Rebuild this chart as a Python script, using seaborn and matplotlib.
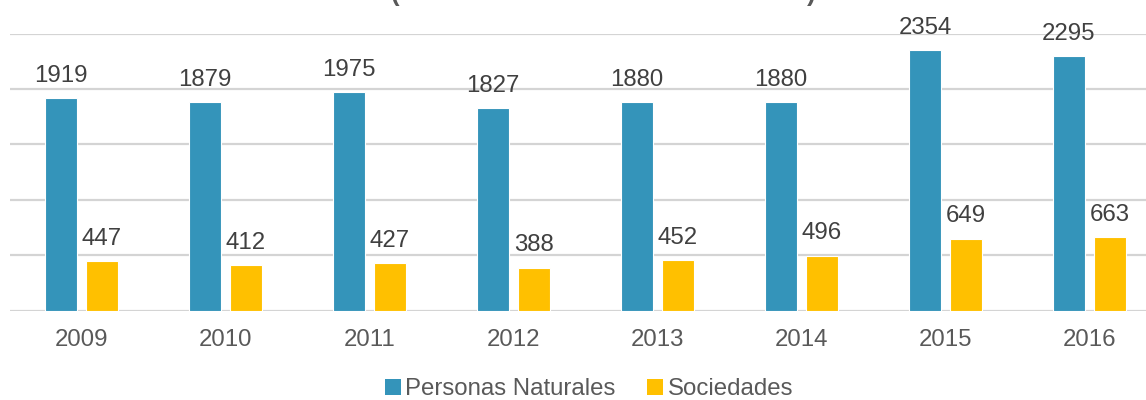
import matplotlib
matplotlib.use("Agg")
import matplotlib.pyplot as plt
import seaborn as sns
import pandas as pd

years = ["2009", "2010", "2011", "2012", "2013", "2014", "2015", "2016"]
personas = [1919, 1879, 1975, 1827, 1880, 1880, 2354, 2295]
sociedades = [447, 412, 427, 388, 452, 496, 649, 663]
series_names = ["Personas Naturales", "Sociedades"]
colors = ["#3494BA", "#FFC000"]

df = pd.DataFrame({
    "year": years * 2,
    "value": personas + sociedades,
    "serie": [series_names[0]] * len(years) + [series_names[1]] * len(years),
})

sns.set_theme(style="white")
plt.rcParams["font.family"] = ["Liberation Sans", "DejaVu Sans"]

W, H = 1146, 400
fig = plt.figure(figsize=(W / 100, H / 100), dpi=100)
# axes extends slightly beyond the right edge (reference is cropped)
left_px, right_px = 9.5, 9.5 + 144 * 8
top_px, bottom_px = 33.5, 310.5
ax = fig.add_axes([left_px / W, 1 - bottom_px / H,
                   (right_px - left_px) / W, (bottom_px - top_px) / H])

sns.barplot(data=df, x="year", y="value", hue="serie", palette=colors,
            saturation=1, width=0.57, gap=0.22, edgecolor="white",
            linewidth=0.8, ax=ax, legend=False, zorder=3)

ax.set_ylim(0, 2500)
ax.set_xlim(-0.5, len(years) - 0.5)
ax.set_yticks([0, 500, 1000, 1500, 2000, 2500])
ax.yaxis.grid(True, color="#D4D4D4", linewidth=1.6, zorder=0)
ax.set_axisbelow(True)
ax.tick_params(axis="y", left=False, labelleft=False)
ax.tick_params(axis="x", bottom=False, labelsize=17.3, colors="#595959", pad=7)
for s in ax.spines.values():
    s.set_visible(False)
ax.set_xlabel("")
ax.set_ylabel("")

for cont in ax.containers:
    ax.bar_label(cont, labels=[f"{int(v)}" for v in cont.datavalues],
                 padding=8, fontsize=17.3, color="#404040", clip_on=False)

# legend
from matplotlib.patches import Patch
handles = [Patch(facecolor=c, edgecolor="none") for c in colors]
fig.legend(handles, series_names, loc="center", bbox_to_anchor=(589 / W, 11 / H),
           ncol=2, frameon=False, fontsize=17.3, handlelength=0.65,
           handleheight=0.65, handletextpad=0.2, columnspacing=1.3,
           labelcolor="#595959", borderpad=0.1)

# title mostly cut off at top of the image: only parenthesis bottoms visible
fig.text(395 / W, 1 - 1.5 / H, "(", fontsize=18.6, fontweight="bold",
         color="#595959", ha="center", va="baseline")
fig.text(811 / W, 1 - 1.5 / H, ")", fontsize=18.6, fontweight="bold",
         color="#595959", ha="center", va="baseline")

fig.savefig("out.png", dpi=100)
